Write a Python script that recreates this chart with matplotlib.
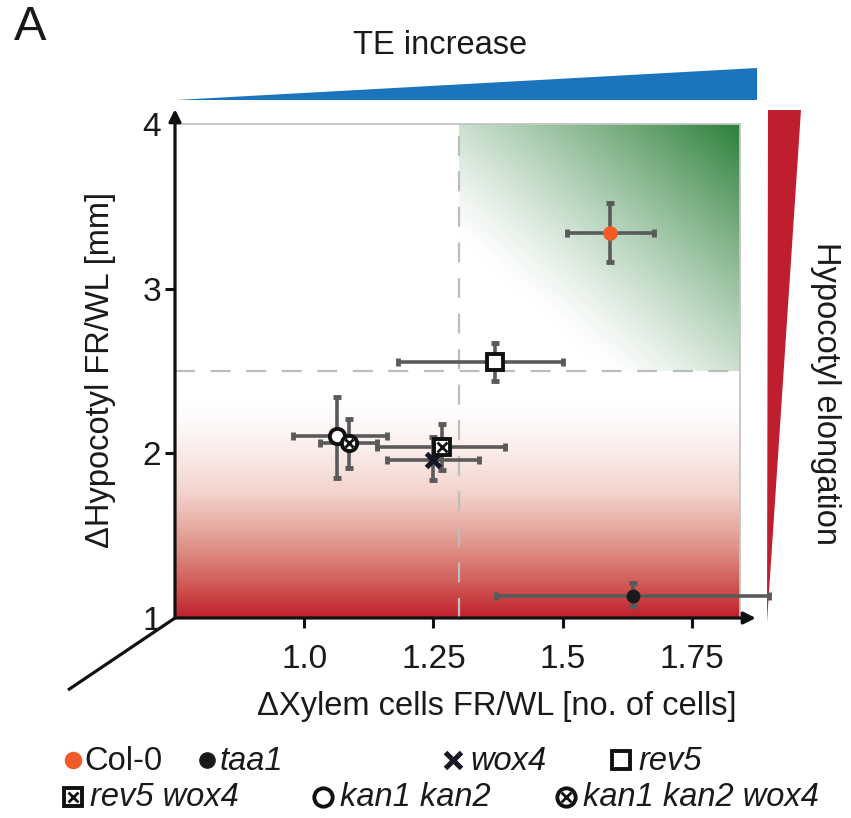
import numpy as np
import matplotlib
matplotlib.use("Agg")
import matplotlib.pyplot as plt
from matplotlib.patches import Polygon
from matplotlib.colors import LinearSegmentedColormap

plt.rcParams['font.family'] = ['Liberation Sans', 'DejaVu Sans']

# ---------------- data ----------------
genotypes = ['Col-0', 'taa1', 'wox4', 'rev5', 'rev5 wox4', 'kan1 kan2', 'kan1 kan2 wox4']
x_mean = [1.592, 1.636, 1.250, 1.369, 1.267, 1.064, 1.087]
y_mean = [3.340, 1.133, 1.958, 2.557, 2.040, 2.103, 2.060]
x_low  = [1.509, 1.371, 1.160, 1.182, 1.141, 0.979, 1.030]
x_high = [1.676, 1.900, 1.339, 1.501, 1.389, 1.160, 1.140]
y_low  = [3.160, 1.070, 1.840, 2.440, 1.900, 1.850, 1.910]
y_high = [3.520, 1.210, 2.100, 2.670, 2.180, 2.345, 2.210]

x_ticks = [1.0, 1.25, 1.5, 1.75]
x_ticklabels = ['1.0', '1.25', '1.5', '1.75']
y_ticks = [1, 2, 3, 4]
y_ticklabels = ['1', '2', '3', '4']
x_thresh = 1.3
y_thresh = 2.5
x_lim = (0.75, 1.843)
y_lim = (1.0, 4.0)

# ---------------- figure ----------------
W, H = 851, 818
fig = plt.figure(figsize=(W / 100, H / 100), dpi=100)

ov = fig.add_axes([0, 0, 1, 1], zorder=0)
ov.set_xlim(0, W)
ov.set_ylim(H, 0)
ov.axis('off')

ax = fig.add_axes([175 / W, (H - 618) / H, 565 / W, 494 / H], zorder=1)
ax.patch.set_alpha(0)
ax.set_xlim(*x_lim)
ax.set_ylim(*y_lim)

# ---- gradients ----
n = 300
red_top = 2.32
red_cmap = LinearSegmentedColormap.from_list(
    'redgrad', [(0, '#ffffff'), (0.3, '#f3d3cc'), (0.6, '#dd8c82'), (0.85, '#cc4a48'), (1, '#bf1f2c')])
yy = np.linspace(y_lim[0], red_top, n)
t = np.clip((red_top - yy) / (red_top - y_lim[0]), 0, 1) ** 1.4
ax.imshow(np.tile(t[:, None], (1, 2)), cmap=red_cmap, vmin=0, vmax=1,
          extent=[x_lim[0], x_lim[1], y_lim[0], red_top], origin='lower',
          aspect='auto', zorder=0, interpolation='bilinear')

u = np.linspace(0, 1, n)
U, V = np.meshgrid(u, u)
tg = np.clip((U + V - 0.55) / 1.45, 0, 1) ** 1.2
green = np.array([44, 128, 58]) / 255
gimg = np.ones((n, n, 4))
for i in range(3):
    gimg[:, :, i] = (1 - tg) + tg * green[i]
ax.imshow(gimg, extent=[x_thresh, x_lim[1], y_thresh, y_lim[1]], origin='lower',
          aspect='auto', zorder=0, interpolation='bilinear')
ax.set_xlim(*x_lim)
ax.set_ylim(*y_lim)

ax.axvline(x_thresh, color='#bdbdbd', lw=1.6, dashes=(9, 7), zorder=1)
ax.axhline(y_thresh, color='#bdbdbd', lw=1.6, dashes=(9, 7), zorder=1)

# ---- spines / axes ----
for s in ['left', 'bottom']:
    ax.spines[s].set_visible(False)
for s in ['top', 'right']:
    ax.spines[s].set_color('#c4c4c4')
    ax.spines[s].set_linewidth(1.3)

ax.annotate('', xy=(0, 1.03), xytext=(0, 0), xycoords='axes fraction',
            arrowprops=dict(arrowstyle='-|>', lw=2.3, color='#111111',
                            mutation_scale=18, shrinkA=0, shrinkB=0), zorder=5)
ax.annotate('', xy=(1.028, 0), xytext=(0, 0), xycoords='axes fraction',
            arrowprops=dict(arrowstyle='-|>', lw=2.3, color='#111111',
                            mutation_scale=18, shrinkA=0, shrinkB=0), zorder=5)

ax.set_xticks(x_ticks)
ax.set_xticklabels(x_ticklabels)
ax.set_yticks(y_ticks)
ax.set_yticklabels(y_ticklabels)
ax.tick_params(axis='both', direction='out', length=7, width=2.2, color='#111111',
               labelsize=24, labelcolor='#1a1a1a')
ax.tick_params(axis='x', pad=12)
ax.tick_params(axis='y', pad=3)
yt = ax.yaxis.get_major_ticks()
yt[0].tick1line.set_visible(False)
yt[-1].tick1line.set_visible(False)

ax.set_xlabel('\u0394Xylem cells FR/WL [no. of cells]', fontsize=23.5, color='#1a1a1a')
ax.xaxis.set_label_coords((497 - 175) / 565, -(707 - 618) / 494)
ax.xaxis.label.set_va('center')
ax.set_ylabel('\u0394Hypocotyl FR/WL [mm]', fontsize=23.5, color='#1a1a1a')
ax.yaxis.set_label_coords(-(175 - 101) / 565, (618 - 370) / 494)
ax.yaxis.label.set_va('center')

# ---- error bars ----
xm = np.array(x_mean); ym = np.array(y_mean)
xerr = np.vstack([xm - np.array(x_low), np.array(x_high) - xm])
yerr = np.vstack([ym - np.array(y_low), np.array(y_high) - ym])
ax.errorbar(xm, ym, xerr=xerr, yerr=yerr, fmt='none', ecolor='#5a5a5a',
            elinewidth=2.6, capsize=3.2, capthick=3.5, zorder=3, clip_on=False)

# ---- markers ----
def draw_marker(a, x, y, kind, scale=1.0, z=4):
    if kind == 'Col-0':
        a.plot(x, y, 'o', ms=10.5 * scale, mfc='#f15a29', mec='none', zorder=z, clip_on=False)
    elif kind == 'taa1':
        a.plot(x, y, 'o', ms=10 * scale, mfc='#1a1a1a', mec='none', zorder=z, clip_on=False)
    elif kind == 'wox4':
        a.plot(x, y, 'x', ms=10 * scale, mec='#161626', mew=3.6, zorder=z, clip_on=False)
    elif kind == 'rev5':
        a.plot(x, y, 's', ms=11 * scale, mfc='white', mec='#111111', mew=2.8, zorder=z, clip_on=False)
    elif kind == 'rev5 wox4':
        a.plot(x, y, 's', ms=11 * scale, mfc='white', mec='#111111', mew=2.8, zorder=z, clip_on=False)
        a.plot(x, y, 'x', ms=6.5 * scale, mec='#111111', mew=2.0, zorder=z + 0.1, clip_on=False)
    elif kind == 'kan1 kan2':
        a.plot(x, y, 'o', ms=11 * scale, mfc='white', mec='#111111', mew=2.8, zorder=z, clip_on=False)
    elif kind == 'kan1 kan2 wox4':
        a.plot(x, y, 'o', ms=11 * scale, mfc='white', mec='#111111', mew=2.8, zorder=z + 0.2, clip_on=False)
        a.plot(x, y, 'x', ms=5.5 * scale, mec='#111111', mew=2.0, zorder=z + 0.3, clip_on=False)

for g, xv, yv in zip(genotypes, x_mean, y_mean):
    draw_marker(ax, xv, yv, g)

# ---- decorations (pixel coords) ----
ov.add_patch(Polygon([(176, 100), (757, 68), (757, 100)], closed=True,
                     facecolor='#1c75bc', edgecolor='none'))
ov.add_patch(Polygon([(768, 110), (801, 110), (767, 622)], closed=True,
                     facecolor='#be1e2d', edgecolor='none'))
ov.plot([175, 68], [618, 690], color='#111111', lw=2.3, solid_capstyle='butt')
ov.text(440, 45, 'TE increase', fontsize=23.5, ha='center', va='center', color='#1a1a1a')
ov.text(826, 393, 'Hypocotyl elongation', fontsize=23.5, ha='center', va='center',
        rotation=-90, color='#1a1a1a')
ov.text(30, 27, 'A', fontsize=35, ha='center', va='center', color='#1a1a1a')

# ---- legend ----
leg_items = [
    ('Col-0', 73, 760, 84),
    ('taa1', 207, 760, 220),
    ('wox4', 453, 760, 470),
    ('rev5', 621, 760, 638),
    ('rev5 wox4', 73, 797, 90),
    ('kan1 kan2', 323, 797, 340),
    ('kan1 kan2 wox4', 566, 797, 583),
]
for g, mx, my, tx in leg_items:
    draw_marker(ov, mx, my, g, scale=1.2)
    ov.text(tx, my + 1, g, fontsize=23.5, ha='left', va='center', color='#1a1a1a',
            style='normal' if g == 'Col-0' else 'italic')

fig.savefig('out.png', dpi=100)
